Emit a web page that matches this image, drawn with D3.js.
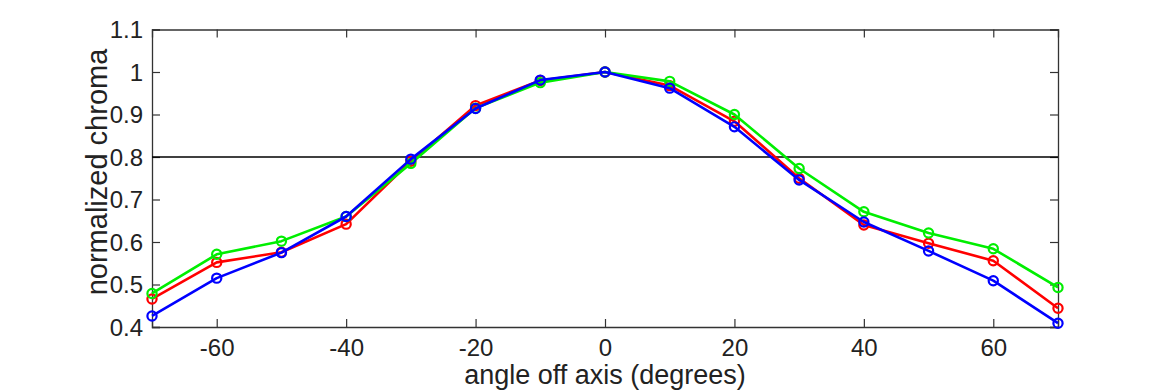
<!DOCTYPE html>
<html><head><meta charset="utf-8">
<script src="https://cdn.jsdelivr.net/npm/d3@7"></script>
<style>body{margin:0;background:#fff;} text{font-family:"Liberation Sans",Arial,Helvetica,sans-serif;fill:#222;}</style>
</head><body><svg id="c" width="1170" height="390"></svg>
<script>
const angles = [-70,-60,-50,-40,-30,-20,-10,0,10,20,30,40,50,60,70];
const redValues   = [0.466,0.552,0.576,0.642,0.790,0.921,0.980,1.0,0.968,0.884,0.750,0.640,0.597,0.556,0.444];
const greenValues = [0.479,0.571,0.602,0.660,0.785,0.915,0.975,1.0,0.978,0.900,0.773,0.671,0.621,0.584,0.493];
const blueValues  = [0.426,0.515,0.575,0.660,0.795,0.914,0.981,1.0,0.962,0.871,0.746,0.647,0.579,0.509,0.409];
const xTicks = [-60,-40,-20,0,20,40,60];
const yTicks = [0.4,0.5,0.6,0.7,0.8,0.9,1,1.1];
const refLine = 0.8;
const series = [
  {name:"red", color:"#ff0000", values:redValues},
  {name:"green", color:"#00ee00", values:greenValues},
  {name:"blue", color:"#0000ff", values:blueValues}
];

const L=152, R=1058, T=29.5, B=327;
const svg = d3.select("#c");
const x = d3.scaleLinear().domain([-70,70]).range([L,R]);
const y = d3.scaleLinear().domain([0.4,1.1]).range([B,T]);
const fmt = d => d===1 ? "1" : d3.format("")(+d.toFixed(1));

// axes
const ax = svg.append("g").attr("transform",`translate(0,${B})`)
  .call(d3.axisBottom(x).tickValues(xTicks).tickSize(-8).tickPadding(12).tickFormat(d=>d));
const axT = svg.append("g").attr("transform",`translate(0,${T})`)
  .call(d3.axisTop(x).tickValues(xTicks).tickSize(-8).tickFormat(""));
const ay = svg.append("g").attr("transform",`translate(${L},0)`)
  .call(d3.axisLeft(y).tickValues(yTicks).tickSize(-8).tickPadding(9).tickFormat(fmt));
const ayR = svg.append("g").attr("transform",`translate(${R},0)`)
  .call(d3.axisRight(y).tickValues(yTicks).tickSize(-8).tickFormat(""));
[ax,axT,ay,ayR].forEach(g=>{
  g.select(".domain").attr("stroke","#333").attr("stroke-width",1.3);
  g.selectAll(".tick line").attr("stroke","#333").attr("stroke-width",1.2);
  g.selectAll("text").style("font-size","24px").attr("fill","#222");
});
ay.selectAll(".tick text").attr("dy","0.35em");

// reference line
svg.append("line").attr("x1",L).attr("x2",R).attr("y1",y(refLine)).attr("y2",y(refLine))
  .attr("stroke","#000").attr("stroke-width",1.4);

const line = d3.line().x((d,i)=>x(angles[i])).y(d=>y(d));
series.forEach(s=>{
  const g = svg.append("g");
  g.append("path").datum(s.values).attr("d",line).attr("fill","none")
    .attr("stroke",s.color).attr("stroke-width",2.6).attr("stroke-linejoin","round");
  g.selectAll("circle").data(s.values).join("circle")
    .attr("cx",(d,i)=>x(angles[i])).attr("cy",d=>y(d)).attr("r",4.6)
    .attr("fill","none").attr("stroke",s.color).attr("stroke-width",2.2);
});

// labels
svg.append("text").attr("x",(L+R)/2).attr("y",384).attr("text-anchor","middle")
  .style("font-size","27px").text("angle off axis (degrees)");
svg.append("text").attr("transform",`translate(107,172) rotate(-90)`)
  .attr("text-anchor","middle").style("font-size","29px").text("normalized chroma");
</script></body></html>
